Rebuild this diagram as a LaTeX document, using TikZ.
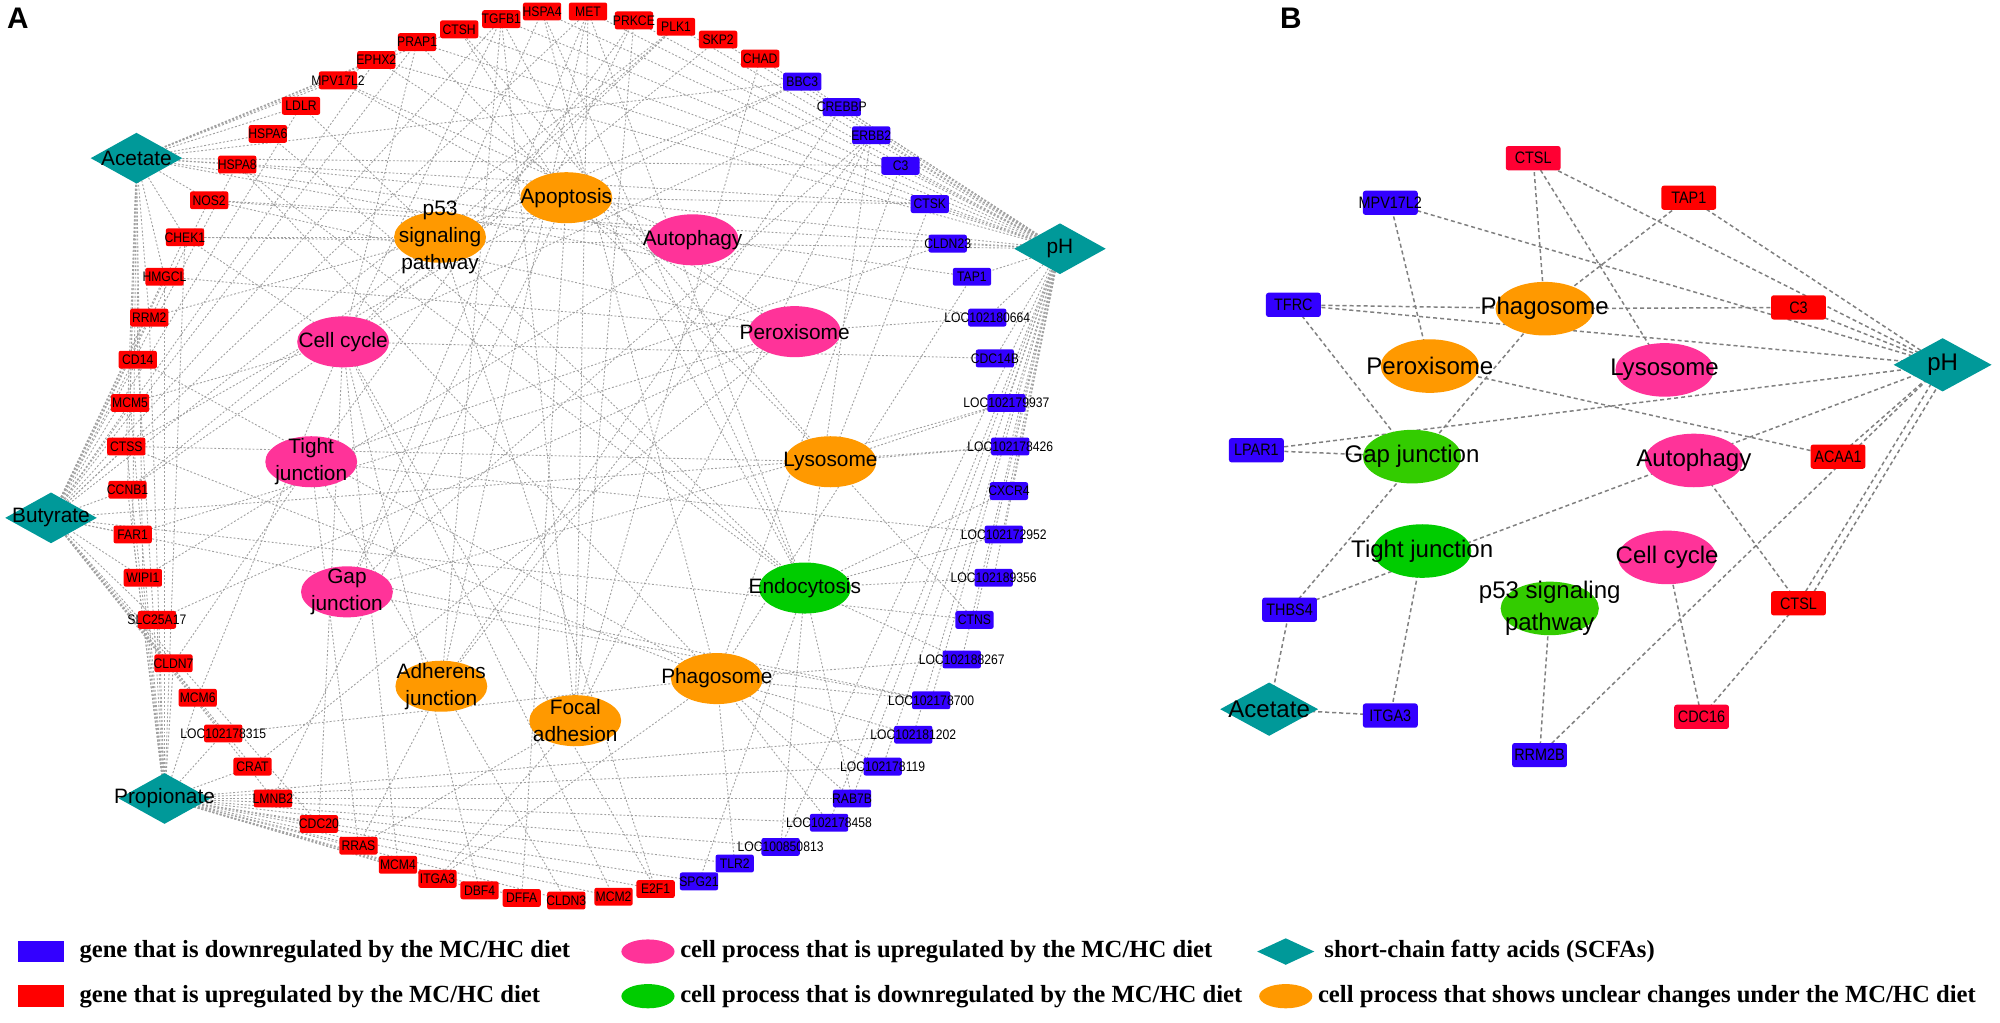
\documentclass[tikz,border=0pt]{standalone}
\usepackage{fontspec}
\setmainfont{Liberation Serif}
\newfontfamily\arial{Liberation Sans}
\usepackage{graphicx}
\usetikzlibrary{shapes.geometric}
\pgfdeclarelayer{background}
\pgfsetlayers{background,main}
\definecolor{gred}{RGB}{255,0,0}
\definecolor{gredB}{RGB}{255,0,51}
\definecolor{gblue}{RGB}{51,0,255}
\definecolor{ppink}{RGB}{255,51,153}
\definecolor{porange}{RGB}{255,153,0}
\definecolor{pgreen}{RGB}{0,204,0}
\definecolor{pgreenB}{RGB}{51,204,0}
\definecolor{steal}{RGB}{0,153,153}
\definecolor{edgeAc}{RGB}{160,160,160}
\definecolor{edgeBc}{RGB}{128,128,128}
\newcommand\narA[1]{\scalebox{0.88}[1]{#1}}
\newcommand\narB[1]{\scalebox{0.87}[1]{#1}}
\begin{document}
\begin{tikzpicture}[x=0.6pt,y=-0.6pt,
  lblgA/.style={font=\arial\fontsize{6.5}{7}\selectfont,inner sep=0pt},
  lblpA/.style={font=\arial\fontsize{9.8}{12.6}\selectfont,inner sep=0pt,align=center},
  lblgB/.style={font=\arial\fontsize{7.8}{8.5}\selectfont,inner sep=0pt},
  lblpB/.style={font=\arial\fontsize{11.3}{14.8}\selectfont,inner sep=0pt,align=center},
  geneA/.style={rectangle,rounded corners=1pt,minimum width=18pt,minimum height=8.4pt,inner sep=0pt,label={[lblgA]center:{\narA{#1}}}},
  procA/.style={ellipse,minimum width=43.2pt,minimum height=24pt,inner sep=0pt,label={[lblpA]center:{#1}}},
  scfaA/.style={diamond,fill=steal,minimum width=43.2pt,minimum height=24pt,inner sep=0pt,label={[lblpA]center:{#1}}},
  geneB/.style={rectangle,rounded corners=1.2pt,minimum width=25.8pt,minimum height=11.4pt,inner sep=0pt,label={[lblgB]center:{\narB{#1}}}},
  procB/.style={ellipse,minimum width=46.2pt,minimum height=25.2pt,inner sep=0pt,label={[lblpB]center:{#1}}},
  scfaB/.style={diamond,fill=steal,minimum width=46.2pt,minimum height=25.2pt,inner sep=0pt,label={[lblpB]center:{#1}}},
  edgeA/.style={draw=edgeAc,line width=0.42pt,dash pattern=on 0.9pt off 0.9pt},
  edgeB/.style={draw=edgeBc,line width=0.7pt,dash pattern=on 1.9pt off 1.4pt},
  legtext/.style={anchor=west,font=\bfseries\fontsize{11.6}{14}\selectfont,inner sep=0pt},
  panel/.style={font=\arial\bfseries\fontsize{14}{16}\selectfont,inner sep=0pt}
]
\useasboundingbox (0,0) rectangle (1568,801.25);

\node[panel] (labA) at (14,14) {A};
\node[panel] (labB) at (1012,14) {B};

% ---------------- Panel A genes ----------------
\foreach \n/\x/\y/\t in {
 MPV17L2/265/63/MPV17L2, EPHX2/295/47/EPHX2, PRAP1/327/33/PRAP1, CTSH/360/23/CTSH,
 TGFB1/393/15/TGFB1, HSPA4/425/9/HSPA4, MET/461/9/MET, PRKCE/497/16/PRKCE,
 PLK1/530/21/PLK1, SKP2/563/31/SKP2, CHAD/596/46/CHAD, LDLR/236/83/LDLR,
 HSPA6/210/105/HSPA6, HSPA8/186/129/HSPA8, NOS2/164/157/NOS2, CHEK1/145/186/CHEK1,
 HMGCL/129/217/HMGCL, RRM2/117/249/RRM2, CD14/108/282/CD14, MCM5/102/316/MCM5,
 CTSS/99/350/CTSS, CCNB1/100/384/CCNB1, FAR1/104/419/FAR1, WIPI1/112/453/WIPI1,
 SLC25A17/123/486/SLC25A17, CLDN7/136/520/CLDN7, MCM6/155/547/MCM6,
 LOC315/175/575/LOC102178315, CRAT/198/601/CRAT, LMNB2/214/626/LMNB2,
 CDC20/250/646/CDC20, RRAS/281/663/RRAS, MCM4/312/678/MCM4, ITGA3/343/689/ITGA3,
 DBF4/376/698/DBF4, DFFA/409/704/DFFA, CLDN3/444/706/CLDN3, MCM2/481/703/MCM2,
 E2F1/514/697/E2F1}
 \node[geneA=\t,fill=gred] (a\n) at (\x,\y) {};
\foreach \n/\x/\y/\t in {
 SPG21/548/691/SPG21, TLR2/576/677/TLR2, LOC813/612/664/LOC100850813,
 LOC458/650/645/LOC102178458, RAB7B/668/626/RAB7B, LOC119/692/601/LOC102178119,
 LOC202/716/576/LOC102181202, LOC700/730/549/LOC102178700, LOC267/754/517/LOC102188267,
 CTNS/764/486/CTNS, LOC356/779/453/LOC102189356, LOC952/787/419/LOC102172952,
 CXCR4/791/385/CXCR4, LOC426/792/350/LOC102178426, LOC937/789/316/LOC102179937,
 CDC14B/780/281/CDC14B, LOC664/774/249/LOC102180664, TAP1/762/217/TAP1,
 CLDN23/743/191/CLDN23, CTSK/729/160/CTSK, C3/706/130/C3, ERBB2/683/106/ERBB2,
 CREBBP/660/84/CREBBP, BBC3/629/64/BBC3}
 \node[geneA=\t,fill=gblue] (a\n) at (\x,\y) {};

% ---------------- Panel A processes ----------------
\node[procA={p53\\signaling\\pathway},fill=porange] (aP53) at (345,186) {};
\node[procA=Apoptosis,fill=porange] (aAPO) at (444,155) {};
\node[procA=Autophagy,fill=ppink] (aAUTO) at (543,188) {};
\node[procA=Cell cycle,fill=ppink] (aCC) at (269,268) {};
\node[procA=Peroxisome,fill=ppink] (aPEROX) at (623,260) {};
\node[procA={Tight\\junction},fill=ppink] (aTJ) at (244,362) {};
\node[procA=Lysosome,fill=porange] (aLYSO) at (651,362) {};
\node[procA={Gap\\junction},fill=ppink] (aGJ) at (272,464) {};
\node[procA=Endocytosis,fill=pgreen] (aENDO) at (631,461) {};
\node[procA={Adherens\\junction},fill=porange] (aAJ) at (346,538) {};
\node[procA={Focal\\adhesion},fill=porange] (aFA) at (451,565) {};
\node[procA=Phagosome,fill=porange] (aPHAGO) at (562,532) {};

\node[scfaA=Acetate] (aACE) at (107,124) {};
\node[scfaA=Butyrate] (aBUT) at (40,406) {};
\node[scfaA=Propionate] (aPRO) at (129,626) {};
\node[scfaA=pH] (aPH) at (831,195) {};

% ---------------- Panel B ----------------
\node[geneB=CTSL,fill=gredB] (bCTSLa) at (1202,124) {};
\node[geneB=TAP1,fill=gred] (bTAP1) at (1324,155) {};
\node[geneB=MPV17L2,fill=gblue] (bMPV) at (1090,159) {};
\node[geneB=TFRC,fill=gblue] (bTFRC) at (1014,239) {};
\node[geneB=C3,fill=gred] (bC3) at (1410,241) {};
\node[geneB=LPAR1,fill=gblue] (bLPAR1) at (985,353) {};
\node[geneB=ACAA1,fill=gred] (bACAA1) at (1441,358) {};
\node[geneB=THBS4,fill=gblue] (bTHBS4) at (1011,478) {};
\node[geneB=CTSL,fill=gred] (bCTSLb) at (1410,473) {};
\node[geneB=ITGA3,fill=gblue] (bITGA3) at (1090,561) {};
\node[geneB=CDC16,fill=gredB] (bCDC16) at (1334,562) {};
\node[geneB=RRM2B,fill=gblue] (bRRM2B) at (1207,592) {};

\node[procB=Phagosome,fill=porange] (bPHAGO) at (1211,242) {};
\node[procB=Peroxisome,fill=porange] (bPEROX) at (1121,287) {};
\node[procB=Lysosome,fill=ppink] (bLYSO) at (1305,290) {};
\node[procB=Gap junction,fill=pgreenB] (bGJ) at (1107,358) {};
\node[procB=Autophagy,fill=ppink] (bAUTO) at (1328,361) {};
\node[procB=Tight junction,fill=pgreen] (bTJ) at (1115,432) {};
\node[procB=Cell cycle,fill=ppink] (bCC) at (1307,437) {};
\node[procB={p53 signaling\\pathway},fill=pgreenB] (bP53) at (1215,477) {};

\node[scfaB=pH] (bPH) at (1523,286) {};
\node[scfaB=Acetate] (bACE) at (995,556) {};

% ---------------- Legend ----------------
\node[rectangle,fill=gblue,minimum width=21.6pt,minimum height=10.2pt,inner sep=0pt] (L1) at (32,746) {};
\node[legtext] (L1t) at (62,746) {gene that is downregulated by the MC/HC diet};
\node[rectangle,fill=gred,minimum width=21.6pt,minimum height=10.2pt,inner sep=0pt] (L2) at (32,781) {};
\node[legtext] (L2t) at (62,781) {gene that is upregulated by the MC/HC diet};
\node[ellipse,fill=ppink,minimum width=25pt,minimum height=11.4pt,inner sep=0pt] (L3) at (508,746) {};
\node[legtext] (L3t) at (533,746) {cell process that is upregulated by the MC/HC diet};
\node[ellipse,fill=pgreen,minimum width=25pt,minimum height=11.4pt,inner sep=0pt] (L4) at (508,781) {};
\node[legtext] (L4t) at (533,781) {cell process that is downregulated by the MC/HC diet};
\node[diamond,fill=steal,minimum width=27pt,minimum height=12.6pt,inner sep=0pt] (L5) at (1008,746) {};
\node[legtext] (L5t) at (1038,746) {short-chain fatty acids (SCFAs)};
\node[ellipse,fill=porange,minimum width=25pt,minimum height=11.4pt,inner sep=0pt] (L6) at (1008,781) {};
\node[legtext] (L6t) at (1033,781) {cell process that shows unclear changes under the MC/HC diet};

% ---------------- Edges ----------------
\begin{pgfonlayer}{background}
\fill[white] (0,0) rectangle (1568,801.25);
\foreach \g in {LDLR,HSPA6,HSPA8,NOS2,CHEK1,HMGCL,MPV17L2,CTSS,MCM5,CCNB1,FAR1,WIPI1,RRM2,CD14,CTSK,BBC3,C3,CTSH,PRAP1,EPHX2,LOC664,TAP1}
 \draw[edgeA] (aACE.center) -- (a\g.center);
\foreach \g in {CHEK1,HMGCL,RRM2,CD14,MCM5,CTSS,CCNB1,FAR1,WIPI1,SLC25A17,CLDN7,MCM6,LOC315,CRAT,LMNB2,CDC20,NOS2,HSPA8,LDLR,EPHX2,PRAP1,TGFB1,MET,PLK1,LOC426,CTNS,LOC700}
 \draw[edgeA] (aBUT.center) -- (a\g.center);
\foreach \g in {CD14,MCM5,CTSS,CCNB1,FAR1,WIPI1,SLC25A17,CLDN7,MCM6,LOC315,CRAT,LMNB2,CDC20,RRAS,MCM4,ITGA3,DBF4,DFFA,CLDN3,MCM2,E2F1,SPG21,TLR2,LOC813,LOC458,RAB7B,LOC119,LOC202,HMGCL,RRM2,CHEK1}
 \draw[edgeA] (aPRO.center) -- (a\g.center);
\foreach \g in {BBC3,CREBBP,ERBB2,C3,CTSK,CLDN23,TAP1,LOC664,CDC14B,LOC937,LOC426,CXCR4,LOC952,LOC356,CTNS,LOC267,LOC700,LOC202,LOC119,RAB7B,CHAD,SKP2,PLK1,PRKCE,MET,HSPA4,TGFB1,CTSH,PRAP1,EPHX2,HSPA8,NOS2,CHEK1,LOC458,LOC813}
 \draw[edgeA] (aPH.center) -- (a\g.center);
\foreach \g/\p in {MPV17L2/PEROX,MPV17L2/AUTO,EPHX2/PEROX,PRAP1/LYSO,PRAP1/CC,CTSH/LYSO,CTSH/APO,
 TGFB1/CC,TGFB1/AJ,TGFB1/ENDO,TGFB1/FA,HSPA4/PHAGO,HSPA4/ENDO,HSPA4/P53,MET/AJ,MET/FA,MET/ENDO,MET/GJ,
 PRKCE/TJ,PRKCE/FA,PRKCE/GJ,PLK1/CC,PLK1/P53,SKP2/CC,CHAD/FA,LDLR/ENDO,HSPA6/ENDO,HSPA8/ENDO,HSPA8/PHAGO,
 NOS2/PEROX,NOS2/AUTO,CHEK1/P53,CHEK1/CC,HMGCL/PEROX,RRM2/P53,CD14/PHAGO,MCM5/CC,CTSS/LYSO,CTSS/PHAGO,CTSS/APO,
 CCNB1/CC,CCNB1/P53,FAR1/PEROX,WIPI1/AUTO,SLC25A17/PEROX,CLDN7/TJ,MCM6/CC,LOC315/PHAGO,CRAT/PEROX,LMNB2/APO,
 CDC20/CC,RRAS/TJ,RRAS/FA,RRAS/AJ,MCM4/CC,ITGA3/FA,ITGA3/PHAGO,DBF4/CC,DFFA/APO,CLDN3/TJ,MCM2/CC,E2F1/CC,E2F1/P53,
 SPG21/ENDO,TLR2/PHAGO,LOC813/ENDO,LOC458/PHAGO,RAB7B/ENDO,RAB7B/PHAGO,LOC119/PHAGO,LOC202/PHAGO,LOC700/PHAGO,LOC700/GJ,
 LOC267/PHAGO,LOC267/ENDO,CTNS/LYSO,LOC356/ENDO,LOC952/ENDO,LOC952/TJ,CXCR4/ENDO,LOC426/LYSO,LOC937/LYSO,LOC937/GJ,
 CDC14B/CC,LOC664/PEROX,TAP1/PHAGO,CLDN23/TJ,CTSK/LYSO,CTSK/APO,C3/PHAGO,ERBB2/FA,ERBB2/AJ,ERBB2/ENDO,ERBB2/GJ,
 CREBBP/AJ,CREBBP/CC,BBC3/P53,BBC3/APO}
 \draw[edgeA] (a\g.center) -- (a\p.center);

\foreach \s/\t in {bMPV/bPEROX,bMPV/bPH,bCTSLa/bPHAGO,bCTSLa/bLYSO,bCTSLa/bPH,bTAP1/bPHAGO,bTAP1/bPH,
 bTFRC/bPHAGO,bTFRC/bPH,bTFRC/bGJ,bC3/bPHAGO,bC3/bPH,bLPAR1/bGJ,bLPAR1/bPH,bPEROX/bACAA1,
 bTHBS4/bPHAGO,bTHBS4/bPH,bTHBS4/bACE,bACE/bITGA3,bITGA3/bTJ,bAUTO/bCTSLb,bCTSLb/bPH,
 bCC/bCDC16,bCTSLb/bCDC16,bP53/bRRM2B,bPH/bACAA1,bPH/bRRM2B}
 \draw[edgeB] (\s.center) -- (\t.center);
\draw[edgeB] ([xshift=4pt]bCTSLb.center) -- ([xshift=2pt,yshift=-3pt]bPH.center);
\end{pgfonlayer}
\end{tikzpicture}
\end{document}
